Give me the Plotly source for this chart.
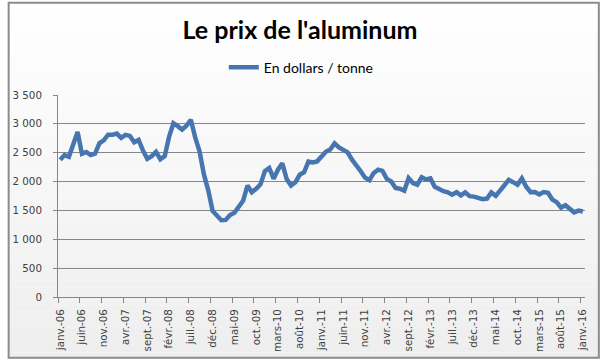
import plotly.graph_objects as go

months = ["janv.", "févr.", "mars", "avr.", "mai", "juin", "juil.", "août", "sept.", "oct.", "nov.", "déc."]
categories = [f"{months[m]}-{str(y)[2:]}" for y in range(2006, 2017) for m in range(12)][:121]

prices = [
    2379, 2457, 2429, 2619, 2860, 2479, 2512, 2460, 2482, 2663, 2715, 2812,  # 2006
    2810, 2831, 2759, 2810, 2792, 2680, 2721, 2540, 2393, 2440, 2514, 2387,  # 2007
    2440, 2774, 3010, 2960, 2900, 2967, 3071, 2764, 2524, 2123, 1848, 1491,  # 2008
    1413, 1330, 1336, 1420, 1460, 1570, 1667, 1930, 1817, 1876, 1951, 2181,  # 2009
    2235, 2050, 2206, 2317, 2044, 1931, 1988, 2118, 2161, 2347, 2331, 2350,  # 2010
    2440, 2515, 2555, 2662, 2593, 2556, 2507, 2379, 2292, 2179, 2068, 2023,  # 2011
    2150, 2207, 2185, 2048, 2002, 1888, 1876, 1841, 2059, 1975, 1947, 2075,  # 2012
    2037, 2054, 1910, 1860, 1833, 1815, 1773, 1815, 1761, 1814, 1748, 1739,  # 2013
    1726, 1695, 1705, 1810, 1752, 1838, 1948, 2030, 1990, 1946, 2055, 1910,  # 2014
    1815, 1818, 1776, 1819, 1804, 1688, 1643, 1548, 1590, 1515, 1467, 1497,  # 2015
    1481,                                                                    # 2016
]

y_ticks = [0, 500, 1000, 1500, 2000, 2500, 3000, 3500]
y_tick_labels = ["0", "500", "1 000", "1 500", "2 000", "2 500", "3 000", "3 500"]

x_idx = list(range(len(prices)))
label_idx = list(range(0, len(prices), 5))
label_text = [categories[i] for i in label_idx]

W, H = 600, 364
ML, MR, MT, MB = 51, 15, 95, 63

fig = go.Figure()
fig.add_trace(go.Scatter(
    x=x_idx, y=prices, mode="lines", name="En dollars / tonne",
    line=dict(color="#4675b0", width=4.5),
))

# background gradient (white to light gray) as bands
shapes = []
n_bands = 60
pw = W - ML - MR
ph = H - MT - MB
for k in range(n_bands):
    t0 = k / n_bands
    t1 = (k + 1) / n_bands
    g = int(round(255 - (255 - 238) * (t0 + t1) / 2))
    col = f"rgb({g},{g},{g})"
    shapes.append(dict(
        type="rect", xref="paper", yref="paper", layer="below",
        x0=-ML / pw, x1=1 + MR / pw,
        y0=1 + MT / ph - t1 * H / ph, y1=1 + MT / ph - t0 * H / ph,
        fillcolor=col, line=dict(width=0),
    ))
shapes.append(dict(
    type="rect", xref="paper", yref="paper", layer="above",
    x0=-(ML - 1) / pw, x1=1 + (MR - 1) / pw,
    y0=-(MB - 1) / ph, y1=1 + (MT - 1) / ph,
    line=dict(color="#8c8c8c", width=2), fillcolor="rgba(0,0,0,0)",
))

fig.update_layout(
    width=W, height=H,
    margin=dict(l=ML, r=MR, t=MT, b=MB, pad=0),
    paper_bgcolor="white",
    plot_bgcolor="rgba(0,0,0,0)",
    shapes=shapes,
    title=dict(
        text="<b>Le prix de l'aluminum</b>",
        x=0.5, xanchor="center", xref="container",
        y=1 - 30 / H, yanchor="middle", yref="container",
        font=dict(family="Lato", size=25, color="black"),
    ),
    showlegend=True,
    legend=dict(
        orientation="h", x=(219 - ML) / pw, xanchor="left",
        y=1 + (MT - 67) / ph, yanchor="middle",
        font=dict(family="Lato", size=14, color="black"),
        bgcolor="rgba(0,0,0,0)",
    ),
    xaxis=dict(
        range=[-0.5, len(prices) - 0.5],
        tickmode="array", tickvals=label_idx, ticktext=label_text,
        tickangle=-90, ticks="",
        ticklabelstandoff=7,
        tickfont=dict(family="DejaVu Sans", size=10.3, color="#404040"),
        showgrid=False, zeroline=False,
        showline=True, linecolor="#868686", linewidth=1,
        minor=dict(tick0=-0.5, dtick=5, ticks="outside", ticklen=5,
                   tickcolor="#868686", showgrid=False),
        fixedrange=True,
    ),
    yaxis=dict(
        range=[0, 3500],
        tickmode="array", tickvals=y_ticks, ticktext=y_tick_labels,
        ticks="outside", ticklen=4, tickcolor="#868686",
        tickfont=dict(family="DejaVu Sans", size=10.3, color="#404040"),
        showgrid=True, gridcolor="#868686", gridwidth=1,
        zeroline=False,
        showline=True, linecolor="#868686", linewidth=1,
        ticklabelstandoff=9,
        fixedrange=True,
    ),
)

fig.write_html("out.html")
